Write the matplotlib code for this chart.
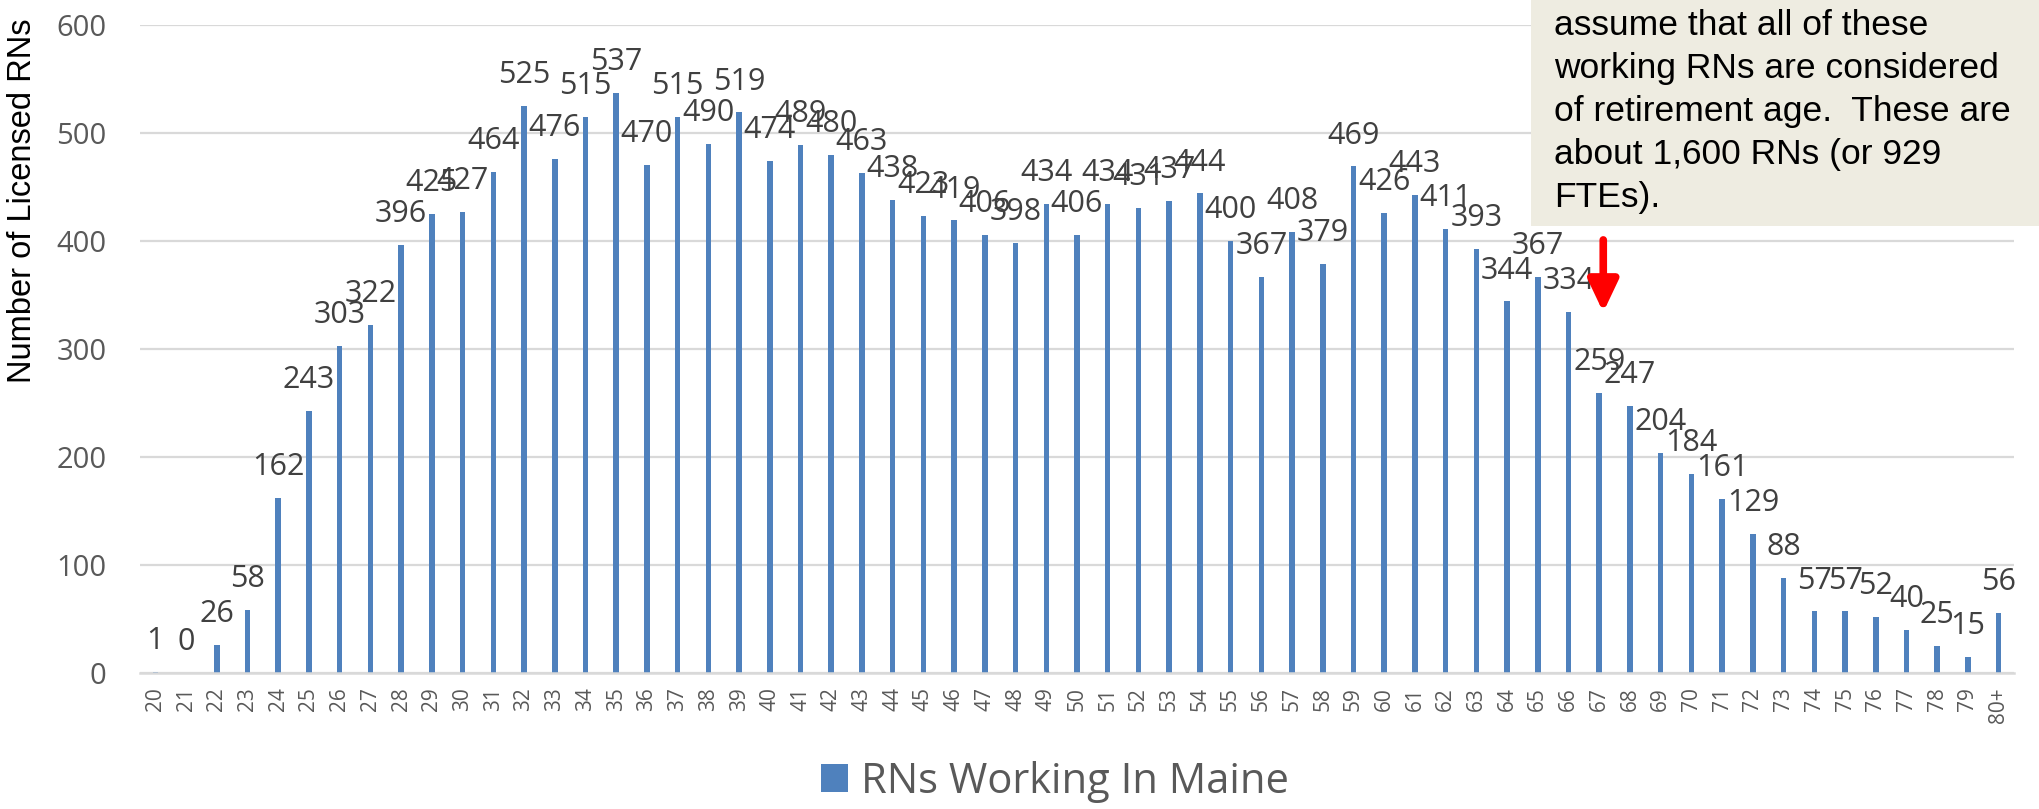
import matplotlib
matplotlib.use("Agg")
import matplotlib.pyplot as plt
from matplotlib.patches import Rectangle, Patch

# - - - - Data - - - -
ages = [str(a) for a in range(20, 80)] + ["80+"]
rns_working = [1, 0, 26, 58, 162, 243, 303, 322, 396, 425,
               427, 464, 525, 476, 515, 537, 470, 515, 490, 519,
               474, 489, 480, 463, 438, 423, 419, 406, 398, 434,
               406, 434, 431, 437, 444, 400, 367, 408, 379, 469,
               426, 443, 411, 393, 344, 367, 334, 259, 247, 204,
               184, 161, 129, 88, 57, 57, 52, 40, 25, 15,
               56]
y_ticks = [0, 100, 200, 300, 400, 500, 600]
note_lines = ["assume that all of these",
              "working RNs are considered",
              "of retirement age.  These are",
              "about 1,600 RNs (or 929",
              "FTEs)."]
arrow_age = "67"

bar_color = "#4F81BD"
grid_color = "#D9D9D9"

fig = plt.figure(figsize=(20.39, 8.09), dpi=100)
ax = fig.add_axes([140 / 2039, 1 - 673 / 809, (2014 - 140) / 2039, (673 - 25) / 809])

x = list(range(len(ages)))
ax.bar(x, rns_working, width=0.18, color=bar_color, zorder=2)

# Etiquetas de datos
for xi, v in zip(x, rns_working):
    ax.annotate(str(v), (xi, v), xytext=(0, 16.5), textcoords="offset points",
                ha="center", va="baseline", fontsize=22, color="#404040",
                family="Open Sans", zorder=3)

ax.set_xlim(-0.5, len(ages) - 0.5)
ax.set_ylim(0, 600)
ax.set_yticks(y_ticks)
ax.set_xticks(x)
ax.set_xticklabels(ages, rotation=90, fontsize=15, color="#595959", family="Open Sans")
ax.tick_params(axis="x", length=0, pad=10)
ax.tick_params(axis="y", length=0, pad=24, labelsize=21, labelcolor="#595959")
for lab in ax.get_yticklabels():
    lab.set_family("Open Sans")

ax.grid(axis="y", color=grid_color, linewidth=1.6, zorder=0)
ax.set_axisbelow(True)
for s in ["top", "right", "left"]:
    ax.spines[s].set_visible(False)
ax.spines["bottom"].set_color(grid_color)
ax.spines["bottom"].set_linewidth(1.8)

fig.text(0.011, 1 - 201 / 809, "Number of Licensed RNs", rotation=90,
         ha="center", va="center", fontsize=23.5, color="black", family="Liberation Sans")

# Cuadro de nota
box = Rectangle((1531 / 2039, 1 - 226 / 809), 1 - 1531 / 2039, 226 / 809,
                transform=fig.transFigure, facecolor="#EEECE1", edgecolor="none", zorder=5)
fig.add_artist(box)
for i, line in enumerate(note_lines):
    fig.text(1554 / 2039, 1 - (35 + 43 * i) / 809, line, ha="left", va="baseline",
             fontsize=25.5, color="black", family="Liberation Sans", zorder=6)

# Flecha roja
xa = ages.index(arrow_age) + 0.13
ax.annotate("", xy=(xa, 334), xytext=(xa, 401),
            arrowprops=dict(arrowstyle="-|>,head_width=0.9,head_length=1.9",
                            color="red", lw=5.5, shrinkA=0, shrinkB=0), zorder=4)

# Leyenda
fig.legend(handles=[Patch(facecolor=bar_color, edgecolor="none", label="RNs Working In Maine")],
           loc="center", bbox_to_anchor=(1055 / 2039, 1 - 782 / 809), frameon=False,
           prop={"family": "Open Sans", "size": 30}, labelcolor="#595959",
           handlelength=0.65, handleheight=0.65, handletextpad=0.3)

fig.savefig("out.png", dpi=100)
